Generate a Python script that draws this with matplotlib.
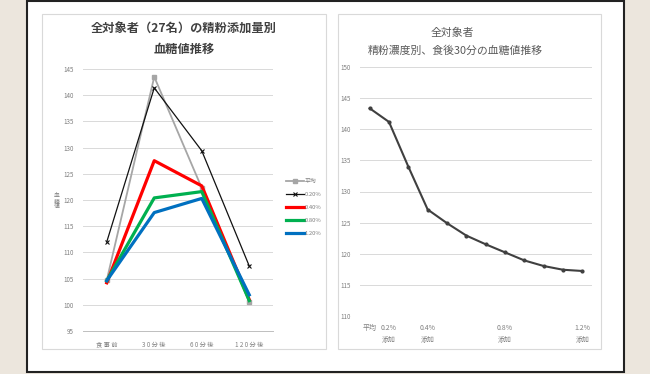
import numpy as np
import matplotlib.pyplot as plt
import matplotlib.patches as mpatches

plt.rcParams['font.family'] = ['Noto Sans CJK JP', 'DejaVu Sans']

# -------------------
# DATA
# -------------------
time_labels = ['食 事 前', '3 0 分 後', '6 0 分 後', '1 2 0 分 後']
series_names = ['平均', '0.20%', '0.40%', '0.80%', '1.20%']
avg_vals = [104.7, 143.5, 122.3, 100.5]
p020_vals = [112.0, 141.4, 129.4, 107.4]
p040_vals = [104.2, 127.5, 122.7, 101.0]
p080_vals = [104.6, 120.4, 121.6, 100.8]
p120_vals = [104.6, 117.6, 120.3, 101.9]

conc_labels = ['平均', '0.2%\n添加', '', '0.4%\n添加', '', '', '', '0.8%\n添加', '', '', '', '1.2%\n添加']
conc_vals = [143.4, 141.2, 134.0, 127.1, 124.9, 122.9, 121.5, 120.2, 118.9, 118.0, 117.4, 117.2]

W, H = 650, 374
fig = plt.figure(figsize=(6.5, 3.74), dpi=100)
fig.patch.set_facecolor('#ece6dd')


def box(x0, y0, x1, y1, **kw):
    # pixel box (top-left origin) -> figure coords, kept behind the axes
    r = mpatches.Rectangle((x0 / W, 1 - y1 / H), (x1 - x0) / W, (y1 - y0) / H,
                           transform=fig.transFigure, zorder=-10, **kw)
    fig.patches.append(r)


box(27, 1, 624, 372, facecolor='white', edgecolor='#222222', linewidth=1.5)
box(42, 14, 326, 349, facecolor='white', edgecolor='#d9d9d9', linewidth=0.8)
box(338, 14, 601, 349, facecolor='white', edgecolor='#d9d9d9', linewidth=0.8)

grid_c = '#d9d9d9'
tick_c = '#7f7f7f'

# -------------------
# LEFT CHART
# -------------------
ax1 = fig.add_axes([83 / W, 1 - 331 / H, 190 / W, 262 / H])
ax1.set_facecolor('none')
x = np.arange(len(time_labels))
ax1.plot(x, avg_vals, color='#a6a6a6', lw=1.3, marker='s', ms=2.8, label=series_names[0], zorder=3)
ax1.plot(x, p020_vals, color='#111111', lw=0.9, marker='x', ms=3, mew=0.8, label=series_names[1], zorder=4)
ax1.plot(x, p040_vals, color='#ff0000', lw=2.3, label=series_names[2], zorder=5)
ax1.plot(x, p080_vals, color='#00b050', lw=2.3, label=series_names[3], zorder=6)
ax1.plot(x, p120_vals, color='#0070c0', lw=2.3, label=series_names[4], zorder=7)
ax1.set_xlim(-0.5, 3.5)
ax1.set_ylim(95, 145)
ax1.set_yticks(np.arange(95, 146, 5))
ax1.set_xticks(x)
ax1.set_xticklabels(time_labels)
ax1.grid(axis='y', color=grid_c, lw=0.7)
ax1.set_axisbelow(True)
for s in ['top', 'right', 'left']:
    ax1.spines[s].set_visible(False)
ax1.spines['bottom'].set_color('#bfbfbf')
ax1.spines['bottom'].set_linewidth(0.7)
ax1.tick_params(length=0, labelsize=4.5, colors=tick_c, pad=7)
ax1.legend(loc='upper left', bbox_to_anchor=(281 / W, 1 - 174 / H), bbox_transform=fig.transFigure,
           frameon=False, fontsize=4.2, handlelength=3.0, handletextpad=0.2, labelspacing=1.35,
           labelcolor=tick_c)

fig.text(184 / W, 1 - 29 / H, '全対象者（27名）の精粉添加量別', ha='center', va='center',
         fontsize=8.8, fontweight='bold', color='#404040')
fig.text(184 / W, 1 - 49 / H, '血糖値推移', ha='center', va='center',
         fontsize=8.8, fontweight='bold', color='#404040')
fig.text(57 / W, 1 - 201 / H, '血\n糖\n値', ha='center', va='center',
         fontsize=4.2, color=tick_c, linespacing=1.0)

# -------------------
# RIGHT CHART
# -------------------
ax2 = fig.add_axes([360 / W, 1 - 315.7 / H, 232 / W, 248.4 / H])
ax2.set_facecolor('none')
xc = np.arange(len(conc_vals))
ax2.plot(xc, conc_vals, color='#404040', lw=1.5, marker='o', ms=2)
ax2.set_xlim(-0.5, len(conc_vals) - 0.5)
ax2.set_ylim(110, 150)
ax2.set_yticks(np.arange(110, 151, 5))
ax2.set_xticks(xc)
ax2.set_xticklabels(conc_labels)
ax2.grid(axis='y', color=grid_c, lw=0.7)
ax2.set_axisbelow(True)
for s in ['top', 'right', 'left', 'bottom']:
    ax2.spines[s].set_visible(False)
ax2.tick_params(axis='y', length=0, labelsize=4.5, colors=tick_c, pad=7)
ax2.tick_params(axis='x', length=0, labelsize=5, colors=tick_c, pad=6)
for lab in ax2.get_xticklabels():
    lab.set_linespacing(1.7)

fig.text(452 / W, 1 - 33 / H, '全対象者', ha='center', va='center', fontsize=7.8, color='#595959')
fig.text(455 / W, 1 - 51 / H, '精粉濃度別、食後30分の血糖値推移', ha='center', va='center',
         fontsize=7.8, color='#595959')

fig.savefig('out.png', dpi=100, facecolor=fig.get_facecolor())
